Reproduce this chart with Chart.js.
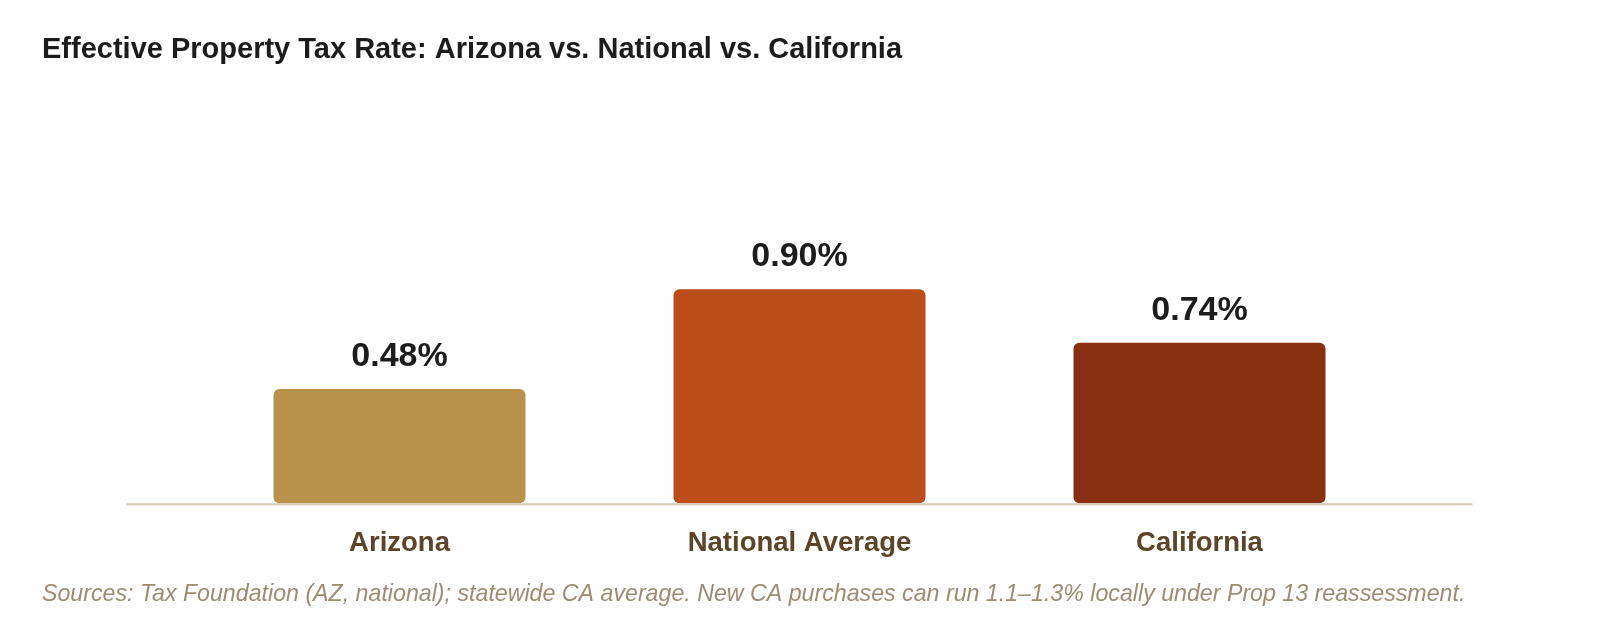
<!DOCTYPE html>
<html>
<head>
<meta charset="utf-8">
<script src="https://cdn.jsdelivr.net/npm/chart.js@4.4.0/dist/chart.umd.min.js"></script>
<style>
  html, body { margin: 0; padding: 0; background: #fff; }
  canvas { display: block; }
</style>
</head>
<body>
<canvas id="taxChart" width="1600" height="632"></canvas>
<script>
const categories = ['Arizona', 'National Average', 'California'];
// bar heights as drawn in the picture; the printed labels are below
const rates = [0.48, 0.90, 0.675];
const rateLabels = ['0.48%', '0.90%', '0.74%'];
const barColors = ['#b8914b', '#bb4e18', '#8a3012'];

const fontFamily = "'Liberation Sans', Arial, Helvetica, sans-serif";

const taxCanvas = document.getElementById('taxChart');

// value labels above the bars
const valueLabels = {
  id: 'valueLabels',
  afterDatasetsDraw(chart) {
    const ctx = chart.ctx;
    const bars = chart.getDatasetMeta(0).data;
    ctx.save();
    ctx.font = 'bold 34px ' + fontFamily;
    ctx.fillStyle = '#1c1c1c';
    ctx.textAlign = 'center';
    ctx.textBaseline = 'alphabetic';
    bars.forEach((bar, i) => {
      ctx.fillText(rateLabels[i], bar.x, bar.y - 23);
    });
    ctx.restore();
  }
};

// baseline, a bit wider than the bar area
const baseLine = {
  id: 'baseLine',
  beforeDatasetsDraw(chart) {
    const ctx = chart.ctx;
    const area = chart.chartArea;
    const y0 = chart.scales.y.getPixelForValue(0) + 1;
    ctx.save();
    ctx.strokeStyle = '#d3c9b6';
    ctx.lineWidth = 2;
    ctx.beginPath();
    ctx.moveTo(area.left - 73, y0);
    ctx.lineTo(area.right + 73, y0);
    ctx.stroke();
    ctx.restore();
  }
};

let taxData = {
  labels: categories,
  datasets: [{
    data: rates,
    backgroundColor: barColors,
    borderRadius: 6,
    borderSkipped: false,
    barPercentage: 0.63,
    categoryPercentage: 1
  }]
};

let taxOptions = {
  responsive: false,
  animation: { duration: 0 },
  layout: { padding: { left: 42, right: 0, top: 0, bottom: 0 } },
  scales: {
    x: {
      grid: { display: false, drawTicks: false },
      border: { display: false },
      ticks: {
        padding: 24,
        color: '#5a4528',
        font: { family: fontFamily, size: 27.5, weight: 'bold' }
      },
      afterFit(scale) { scale.height = 77; }
    },
    y: {
      min: 0,
      max: 1.2,
      grid: { display: false },
      border: { display: false },
      ticks: { display: false },
      afterFit(scale) { scale.width = 157.5; }
    },
    yRight: {
      position: 'right',
      display: true,
      grid: { display: false },
      border: { display: false },
      ticks: { display: false },
      afterFit(scale) { scale.width = 200.5; }
    }
  },
  plugins: {
    legend: { display: false },
    tooltip: { enabled: false },
    title: {
      display: true,
      text: 'Effective Property Tax Rate: Arizona vs. National vs. California',
      align: 'start',
      color: '#1c1c1c',
      font: { family: fontFamily, size: 29, weight: 'bold', lineHeight: 1.2 },
      padding: { top: 33, bottom: 150 }
    },
    subtitle: {
      display: true,
      position: 'bottom',
      text: 'Sources: Tax Foundation (AZ, national); statewide CA average. New CA purchases can run 1.1–1.3% locally under Prop 13 reassessment.',
      align: 'start',
      color: '#9c8c74',
      font: { family: fontFamily, size: 23.2, style: 'italic', weight: 'normal', lineHeight: 1.2 },
      padding: { top: 0, bottom: 24 }
    }
  }
};

let taxChart = new Chart(taxCanvas, {
  type: 'bar',
  data: taxData,
  options: taxOptions,
  plugins: [baseLine, valueLabels]
});
</script>
</body>
</html>
